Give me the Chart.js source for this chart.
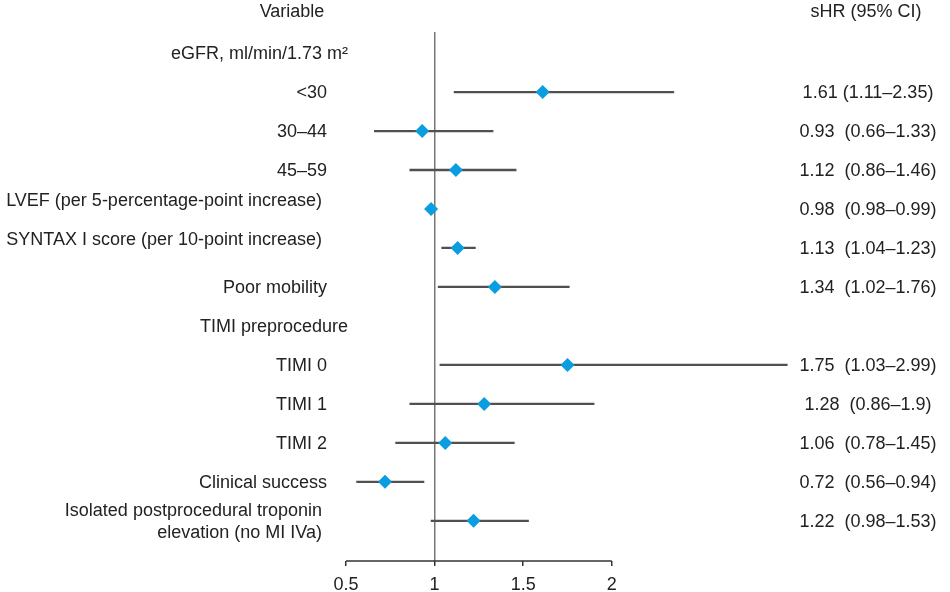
<!DOCTYPE html>
<html>
<head>
<meta charset="utf-8">
<script src="https://cdn.jsdelivr.net/npm/chart.js@4.4.1/dist/chart.umd.min.js"></script>
<style>
  html, body { margin: 0; padding: 0; background: #fff; }
  #wrap { width: 950px; height: 592px; }
</style>
</head>
<body>
<div id="wrap"><canvas id="forest"></canvas></div>
<script>
// rows, top to bottom; heading rows carry no estimate
const rowLabels = [
    'eGFR, ml/min/1.73 m²', '<30', '30–44', '45–59',
    'LVEF (per 5-percentage-point increase)',
    'SYNTAX I score (per 10-point increase)',
    'Poor mobility', 'TIMI preprocedure', 'TIMI 0', 'TIMI 1', 'TIMI 2',
    'Clinical success',
    ['Isolated postprocedural troponin', 'elevation (no MI IVa)']
];
const rowKinds = ['head', 'item', 'item', 'item', 'long', 'long', 'item', 'head', 'item', 'item', 'item', 'item', 'long'];
const hr   = [null, 1.61, 0.93, 1.12, 0.98, 1.13, 1.34, null, 1.75, 1.28, 1.06, 0.72, 1.22];
const ciLo = [null, 1.11, 0.66, 0.86, 0.98, 1.04, 1.02, null, 1.03, 0.86, 0.78, 0.56, 0.98];
const ciHi = [null, 2.35, 1.33, 1.46, 0.99, 1.23, 1.76, null, 2.99, 1.9, 1.45, 0.94, 1.53];
const ciText = [
    '', '1.61 (1.11–2.35)', '0.93  (0.66–1.33)', '1.12  (0.86–1.46)',
    '0.98  (0.98–0.99)', '1.13  (1.04–1.23)', '1.34  (1.02–1.76)', '',
    '1.75  (1.03–2.99)', '1.28  (0.86–1.9)', '1.06  (0.78–1.45)',
    '0.72  (0.56–0.94)', '1.22  (0.98–1.53)'
];
const xTicks = [0.5, 1, 1.5, 2];
const headLeft = 'Variable';
const headRight = 'sHR (95% CI)';

const FONT = '"Liberation Sans Narrow", "Liberation Sans", Arial, sans-serif';
const TEXT = '#222';

const ciBars = [];
const points = [];
hr.forEach((v, i) => {
    if (v === null) return;
    ciBars.push({ y: i, x: [ciLo[i], ciHi[i]] });
    points.push({ x: v, y: i });
});

// labels, value column and the short x axis line
const textPlugin = {
    id: 'forestText',
    afterDraw(chart) {
        const ctx = chart.ctx;
        const xs = chart.scales.x, ys = chart.scales.y;
        ctx.save();
        ctx.fillStyle = TEXT;
        ctx.font = '18px ' + FONT;
        ctx.textBaseline = 'middle';

        ctx.textAlign = 'center';
        ctx.fillText(headLeft, 292, 12);
        ctx.fillText(headRight, 866, 12);

        rowLabels.forEach((label, i) => {
            const y = ys.getPixelForValue(i);
            const kind = rowKinds[i];
            const right = { head: 348, item: 327, long: 322 }[kind];
            const lines = Array.isArray(label) ? label : [label];
            const lift = (kind === 'long' && lines.length === 1) ? -9 : 0;
            ctx.textAlign = 'right';
            lines.forEach((t, j) => {
                ctx.fillText(t, right, y + lift + 1 + (j - (lines.length - 1) / 2) * 22);
            });
            if (ciText[i]) {
                ctx.textAlign = 'center';
                ctx.fillText(ciText[i], 868, y + 1);
            }
        });

        const yb = chart.chartArea.bottom;
        ctx.strokeStyle = '#333';
        ctx.lineWidth = 1.5;
        ctx.beginPath();
        ctx.moveTo(xs.getPixelForValue(xTicks[0]), yb);
        ctx.lineTo(xs.getPixelForValue(xTicks[xTicks.length - 1]), yb);
        ctx.stroke();
        ctx.restore();
    }
};

new Chart(document.getElementById('forest'), {
    type: 'scatter',
    data: {
        datasets: [
            {
                type: 'bar',
                indexAxis: 'y',
                data: ciBars,
                backgroundColor: '#505050',
                borderWidth: 0,
                barThickness: 1.6,
                order: 2
            },
            {
                data: points,
                pointStyle: 'rectRot',
                pointRadius: 7,
                pointBorderWidth: 0,
                backgroundColor: '#0a9de0',
                borderColor: '#0a9de0',
                order: 1
            }
        ]
    },
    options: {
        responsive: true,
        maintainAspectRatio: false,
        animation: false,
        events: [],
        layout: { padding: { left: 346, right: 161, top: 32, bottom: 0 } },
        plugins: { legend: { display: false }, tooltip: { enabled: false } },
        scales: {
            x: {
                type: 'linear',
                min: 0.5,
                max: 3.0,
                offset: false,
                afterBuildTicks: (scale) => { scale.ticks = xTicks.map(v => ({ value: v })); },
                afterFit: (scale) => { scale.height = 31; },
                border: { display: false },
                grid: {
                    color: (c) => c.tick && c.tick.value === 1 ? '#777' : 'rgba(0,0,0,0)',
                    lineWidth: 1.5,
                    tickColor: '#333',
                    tickWidth: 1.5,
                    tickLength: 5
                },
                ticks: {
                    color: TEXT,
                    padding: 8,
                    maxRotation: 0,
                    callback: (v) => String(v),
                    font: { family: FONT, size: 18 }
                }
            },
            y: {
                type: 'linear',
                display: false,
                reverse: true,
                offset: false,
                min: -0.54,
                max: 13.03
            }
        }
    },
    plugins: [textPlugin]
});
</script>
</body>
</html>
